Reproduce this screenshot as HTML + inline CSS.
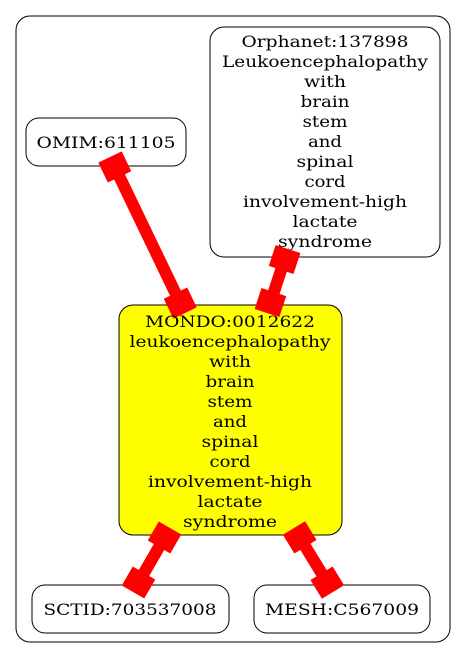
<!DOCTYPE html>
<html><head><meta charset="utf-8"><style>
html,body{margin:0;padding:0;background:#fff;}
</style></head><body>
<svg id="s" width="467" height="659" xmlns="http://www.w3.org/2000/svg" font-family="DejaVu Serif, Liberation Serif, serif" font-size="16" text-anchor="middle">
<rect x="16" y="16" width="434" height="626" rx="14" fill="#fff" stroke="#000" stroke-width="1"/>
<rect x="26" y="118" width="160" height="48" rx="13" fill="#fff" stroke="#000"/>
<text x="106" y="148" textLength="139" lengthAdjust="spacingAndGlyphs">OMIM:611105</text>
<rect x="210" y="27" width="230" height="230" rx="14" fill="#fff" stroke="#000"/>
<g id="orph"></g>
<rect x="119" y="305" width="223" height="230" rx="14" fill="#ff0" stroke="#000"/>
<rect x="32" y="585" width="197" height="48" rx="13" fill="#fff" stroke="#000"/>
<text x="130" y="615" textLength="173" lengthAdjust="spacingAndGlyphs">SCTID:703537008</text>
<rect x="254" y="585" width="176" height="48" rx="13" fill="#fff" stroke="#000"/>
<text x="342" y="615" textLength="154" lengthAdjust="spacingAndGlyphs">MESH:C567009</text>
<g id="edges"></g>
<g id="mondo"></g>
</svg>
<script>
var E=[[110,157,185,313],[288,249,267,313],[170,528,133,592],[294,528,333,592]];
var g=document.getElementById('edges'),h='';
E.forEach(function(e){var dx=e[2]-e[0],dy=e[3]-e[1],L=Math.sqrt(dx*dx+dy*dy),a=Math.atan2(dy,dx)*180/Math.PI;
h+='<g transform="translate('+e[0]+','+e[1]+') rotate('+a+')" fill="#f00">'+
'<rect x="0" y="-13" width="22" height="26"/>'+
'<rect x="20" y="-6" width="'+(L-40)+'" height="12"/>'+
'<rect x="'+(L-22)+'" y="-13" width="22" height="26"/></g>';});
g.innerHTML=h;
var W=[["with",42],["brain",49],["stem",45],["and",34],["spinal",57],["cord",41],["involvement-high",164],["lactate",65],["syndrome",94]];
function lines(first,cx,y0){var L=first.concat(W),s='';
L.forEach(function(l,i){s+='<text x="'+cx+'" y="'+(y0+i*20)+'" textLength="'+l[1]+'" lengthAdjust="spacingAndGlyphs">'+l[0]+'</text>';});return s;}
document.getElementById('orph').innerHTML=lines([["Orphanet:137898",167],["Leukoencephalopathy",206]],325,47);
document.getElementById('mondo').innerHTML=lines([["MONDO:0012622",170],["leukoencephalopathy",201]],230,327);
</script>
</body></html>
